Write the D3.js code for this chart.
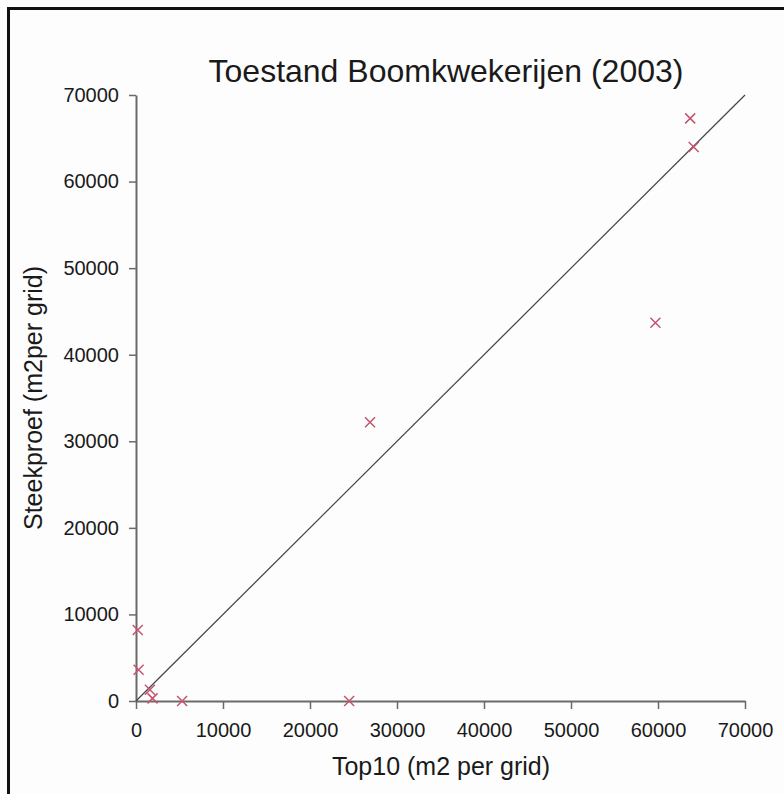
<!DOCTYPE html>
<html>
<head>
<meta charset="utf-8">
<script src="https://cdn.jsdelivr.net/npm/d3@7"></script>
<style>
  html, body { margin: 0; padding: 0; background: #fdfdfd; }
  svg { display: block; }
  text { font-family: "Liberation Sans", Arial, Helvetica, sans-serif; fill: #1a1a1a; }
</style>
</head>
<body>
<svg id="chart" width="784" height="794"></svg>
<script>
// Nursery areas per grid cell: Top10 map vs. sample survey
const top10 = [63700, 64100, 59700, 26900, 200, 300, 1600, 1900, 5300, 24500];
const steekproef = [67300, 64000, 43700, 32200, 8200, 3600, 1300, 300, 0, 0];
const tickValues = [0, 10000, 20000, 30000, 40000, 50000, 60000, 70000];
const axisDomain = [0, 70000];

const titleText = "Toestand Boomkwekerijen (2003)";
const xTitle = "Top10 (m2 per grid)";
const yTitle = "Steekproef (m2per grid)";

const svg = d3.select("#chart");

// frame around the figure (top and left edges visible)
svg.append("path")
  .attr("d", "M8.5,794 L8.5,8.5 L784,8.5")
  .attr("fill", "none")
  .attr("stroke", "#111")
  .attr("stroke-width", 3);

const x = d3.scaleLinear().domain(axisDomain).range([136, 745]);
const y = d3.scaleLinear().domain(axisDomain).range([701, 95]);

// axes
const xAxis = svg.append("g")
  .attr("transform", `translate(0,${y(0)})`)
  .call(d3.axisBottom(x).tickValues(tickValues).tickFormat(d3.format("d"))
    .tickSize(8).tickSizeOuter(0).tickPadding(14));

const yAxis = svg.append("g")
  .attr("transform", `translate(${x(0)},0)`)
  .call(d3.axisLeft(y).tickValues(tickValues).tickFormat(d3.format("d"))
    .tickSize(7).tickSizeOuter(0).tickPadding(10));

[xAxis, yAxis].forEach(g => {
  g.select(".domain").attr("stroke", "#6a6a6a").attr("stroke-width", 2);
  g.selectAll(".tick line").attr("stroke", "#6a6a6a").attr("stroke-width", 1.5);
  g.selectAll(".tick text")
    .style("font-family", "'Liberation Sans', Arial, sans-serif")
    .style("font-size", "20px")
    .attr("fill", "#1a1a1a");
});

// 1:1 reference line
svg.append("line")
  .attr("x1", x(axisDomain[0])).attr("y1", y(axisDomain[0]))
  .attr("x2", x(axisDomain[1])).attr("y2", y(axisDomain[1]))
  .attr("stroke", "#444")
  .attr("stroke-width", 1.2);

// data points as crosses
const r = 5;
const pts = svg.append("g")
  .selectAll("path")
  .data(top10.map((v, i) => [v, steekproef[i]]))
  .join("path")
  .attr("d", d => {
    const cx = x(d[0]), cy = y(d[1]);
    return `M${cx - r},${cy - r}L${cx + r},${cy + r}M${cx - r},${cy + r}L${cx + r},${cy - r}`;
  })
  .attr("fill", "none")
  .attr("stroke", "#c4546f")
  .attr("stroke-width", 1.5);

// title
svg.append("text")
  .attr("x", 446).attr("y", 82)
  .attr("text-anchor", "middle")
  .style("font-size", "32px")
  .text(titleText);

// axis titles
svg.append("text")
  .attr("x", 441).attr("y", 775)
  .attr("text-anchor", "middle")
  .style("font-size", "25px")
  .text(xTitle);

svg.append("text")
  .attr("transform", `translate(42,${(y(0) + y(70000)) / 2}) rotate(-90)`)
  .attr("text-anchor", "middle")
  .style("font-size", "25px")
  .text(yTitle);
</script>
</body>
</html>
